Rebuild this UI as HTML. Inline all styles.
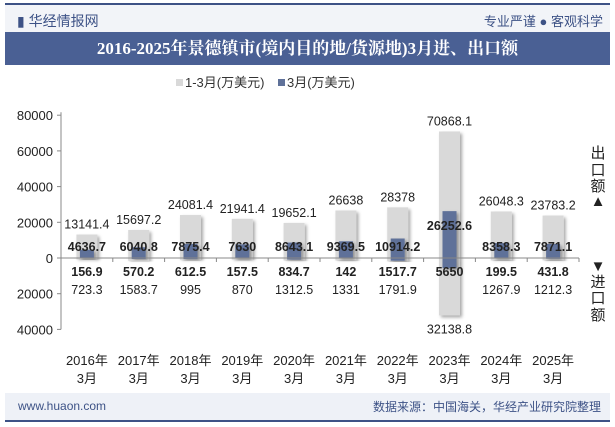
<!DOCTYPE html>
<html><head><meta charset="utf-8"><style>
body{margin:0;width:615px;height:427px;overflow:hidden;background:#fff;font-family:"Liberation Sans","Noto Sans CJK SC",sans-serif;position:relative}
.abs{position:absolute}
</style></head><body>
<div class="abs" style="left:5px;top:3px;width:605px;height:2px;background:#3d5286"></div>
<div class="abs" style="left:5px;top:5px;width:605px;height:27px;background:#f2f4f8"></div>
<div class="abs" style="left:17px;top:11px;font-size:14px;color:#3d5286">▮ 华经情报网</div>
<div class="abs" style="right:12px;top:11px;font-size:13px;color:#3d5286">专业严谨 ● 客观科学</div>
<div class="abs" style="left:5px;top:32px;width:605px;height:33px;background:#4a6094;color:#fff;font-family:'Liberation Serif','Noto Serif CJK SC',serif;font-weight:bold;font-size:17px;line-height:33px;text-align:center">2016-2025年景德镇市(境内目的地/货源地)3月进、出口额</div>
<svg class="abs" style="left:0;top:0" width="615" height="427" id="chart"></svg>
<div class="abs" style="left:5px;top:393px;width:605px;height:27px;background:#eef1f7;border-bottom:2px solid #3d5286"></div>
<div class="abs" style="left:18px;top:399px;font-size:12px;color:#3d5286">www.huaon.com</div>
<div class="abs" style="right:14px;top:398px;font-size:12px;color:#3d5286">数据来源：中国海关，华经产业研究院整理</div>
<script>
const categories=["2016年","2017年","2018年","2019年","2020年","2021年","2022年","2023年","2024年","2025年"];
const exportYtd=[13141.4,15697.2,24081.4,21941.4,19652.1,26638,28378,70868.1,26048.3,23783.2];
const exportMonth=[4636.7,6040.8,7875.4,7630,8643.1,9369.5,10914.2,26252.6,8358.3,7871.1];
const importMonth=[156.9,570.2,612.5,157.5,834.7,142,1517.7,5650,199.5,431.8];
const importYtd=[723.3,1583.7,995,870,1312.5,1331,1791.9,32138.8,1267.9,1212.3];
const yTicks=[80000,60000,40000,20000,0,-20000,-40000];
const svg=document.getElementById('chart');
const NS='http://www.w3.org/2000/svg';
const x0=61,x1=579,y0=258,k=35.7/20000;
const cw=(x1-x0)/categories.length;
const Y=v=>y0-v*k, XC=i=>x0+cw*(i+0.5);
function mk(t,a,p){const e=document.createElementNS(NS,t);for(const q in a)e.setAttribute(q,a[q]);(p||svg).appendChild(e);return e;}
svg.innerHTML='<defs><filter id="sh" x="-30%" y="-10%" width="170%" height="130%"><feDropShadow dx="2" dy="2" stdDeviation="1.5" flood-color="#000" flood-opacity="0.35"/></filter></defs>';
// legend
let e=mk('rect',{x:176,y:79,width:7,height:7,fill:'#d9d9d9'});


e=mk('text',{x:185,y:87,'font-size':13,fill:'#333'});e.textContent='1-3月(万美元)';


e=mk('rect',{x:278,y:79,width:7,height:7,fill:'#5f7199'});


e=mk('text',{x:287,y:87,'font-size':13,fill:'#333'});e.textContent='3月(万美元)';


// y axis
mk('line',{x1:x0,y1:Y(80000)-3,x2:x0,y2:Y(-40000),stroke:'#888'});
yTicks.forEach(v=>{mk('line',{x1:x0-4,y1:Y(v),x2:x0,y2:Y(v),stroke:'#888'});
 const t=mk('text',{x:x0-8,y:Y(v)+5,'text-anchor':'end','font-size':13,fill:'#222'});t.textContent=Math.abs(v);
 
 });
categories.forEach((c,i)=>{
 const cx=XC(i);
 let r=mk('rect',{x:cx-10.5,y:Y(exportYtd[i]),width:21,height:exportYtd[i]*k,fill:'#d9d9d9',filter:'url(#sh)'});
 
 
 r=mk('rect',{x:cx-10.5,y:y0,width:21,height:importYtd[i]*k,fill:'#d9d9d9',filter:'url(#sh)'});
 
 
 r=mk('rect',{x:cx-7,y:Y(exportMonth[i]),width:14,height:exportMonth[i]*k,fill:'#5f7199',filter:'url(#sh)'});
 
 
 r=mk('rect',{x:cx-7,y:y0,width:14,height:importMonth[i]*k,fill:'#5f7199',filter:'url(#sh)'});
 
 
 const lab=(txt,y,b,n)=>{const t=mk('text',{x:cx,y:y+5,'text-anchor':'middle','font-size':12.5,'font-weight':b?'bold':'normal',fill:'#222'});t.textContent=txt;
  
  };
 lab(exportYtd[i],Y(exportYtd[i])-11,false,'label-export-ytd');
 lab(exportMonth[i],Math.min(246,Y(exportMonth[i])+14),true,'label-export-month');
 lab(importMonth[i],271,true,'label-import-month');
 lab(importYtd[i],Math.max(289,Y(-importYtd[i])+13),false,'label-import-ytd');
 let t=mk('text',{x:cx,y:365,'text-anchor':'middle','font-size':13,fill:'#222'});t.textContent=c;
 
 
 t=mk('text',{x:cx,y:383,'text-anchor':'middle','font-size':13,fill:'#222'});t.textContent='3月';
 
 
});
mk('line',{x1:x0,y1:y0,x2:x1,y2:y0,stroke:'#888'});
for(let i=0;i<=categories.length;i++)mk('line',{x1:x0+cw*i,y1:y0,x2:x0+cw*i,y2:y0+4,stroke:'#888'});
// side labels
[['出',158],['口',175],['额',191],['▲',206]].forEach(([s,y])=>{const t=mk('text',{x:598,y:y,'text-anchor':'middle','font-size':15,fill:'#222'});t.textContent=s;
 
 });
[['▼',271],['进',287],['口',303],['额',320]].forEach(([s,y])=>{const t=mk('text',{x:598,y:y,'text-anchor':'middle','font-size':15,fill:'#222'});t.textContent=s;
 
 });
</script>
</body></html>
